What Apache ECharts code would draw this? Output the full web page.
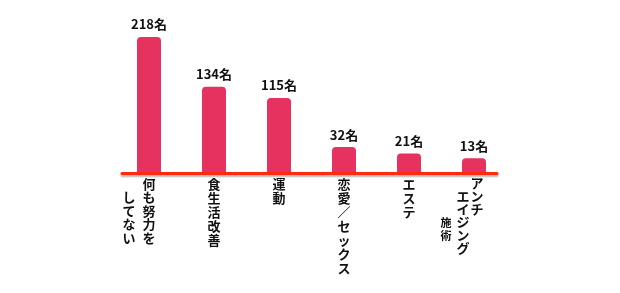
<!DOCTYPE html>
<html>
<head>
<meta charset="utf-8">
<script src="https://cdn.jsdelivr.net/npm/echarts@6/dist/echarts.min.js"></script>
<style>html,body{margin:0;padding:0;background:#fff;}#c{width:620px;height:293px;}</style>
</head>
<body>
<div id="c"></div>
<script>
const categories = ['何も努力をしてない', '食生活改善', '運動', '恋愛／セックス', 'エステ', 'アンチエイジング施術'];
const values = [218, 134, 115, 32, 21, 13];
const valueSuffix = '名';
// vertical label columns (right to left, as in Japanese vertical writing)
const labelColumns = [
  [{ t: '何も努力を', row: 0 }, { t: 'してない', row: 1 }],
  [{ t: '食生活改善', row: 0 }],
  [{ t: '運動', row: 0 }],
  [{ t: '恋愛／セックス', row: 0 }],
  [{ t: 'エステ', row: 0 }],
  [{ t: 'アンチ', row: 0 }, { t: 'エイジング', row: 1 }, { t: '施術', row: 3, small: true }]
];

// label cell layout (styling only)
const labelLayout = [
  { widths: [20, 20], spacer: 20, lh: 13.5 },
  { widths: [20], spacer: 0, lh: 14 },
  { widths: [20], spacer: 0, lh: 14 },
  { widths: [20], spacer: 0, lh: 14 },
  { widths: [20], spacer: 0, lh: 14 },
  { widths: [14, 14, 20], spacer: 28, lh: 13 }
];

const FONT = '"Noto Sans CJK JP", "Noto Sans", sans-serif';
const rich = {};
const labelStrings = [];
labelColumns.forEach((cols, i) => {
  const lay = labelLayout[i];
  let nRows = 0;
  cols.forEach(c => { nRows = Math.max(nRows, c.row + Array.from(c.t).length); });
  cols.forEach((c, j) => {
    rich['c' + i + '_' + j] = {
      width: lay.widths[j], align: 'center',
      fontSize: c.small ? 11 : 13, fontWeight: 'bold', fontFamily: FONT,
      color: '#111', lineHeight: lay.lh
    };
  });
  if (lay.spacer) {
    rich['s' + i] = { width: lay.spacer, fontSize: 13, lineHeight: lay.lh, fontFamily: FONT };
  }
  const lines = [];
  for (let r = 0; r < nRows; r++) {
    let line = '';
    for (let j = cols.length - 1; j >= 0; j--) {
      const chars = Array.from(cols[j].t);
      const k = r - cols[j].row;
      const ch = (k >= 0 && k < chars.length) ? chars[k] : '\u3000';
      line += '{c' + i + '_' + j + '|' + ch + '}';
    }
    if (lay.spacer) line += '{s' + i + '|\u3000}';
    lines.push(line);
  }
  labelStrings.push(lines.join('\n'));
});

const chart = echarts.init(document.getElementById('c'), null, { renderer: 'canvas' });
chart.setOption({
  backgroundColor: '#ffffff',
  animation: false,
  grid: [
    { left: 116.5, right: 113.5, top: 20, bottom: 120 },
    { left: 122, right: 123, top: 20, bottom: 120 }
  ],
  xAxis: [{
    type: 'category',
    gridIndex: 0,
    data: categories,
    axisLine: { show: false },
    axisTick: { show: false },
    axisLabel: {
      interval: 0,
      margin: 4,
      hideOverlap: false,
      verticalAlign: 'top',
      formatter: (v, idx) => labelStrings[idx],
      rich: rich
    }
  }, {
    type: 'category',
    gridIndex: 1,
    data: categories,
    z: 5,
    axisLine: {
      onZero: false,
      lineStyle: { color: '#FF2A12', width: 3, shadowColor: 'rgba(0,0,0,0.3)', shadowBlur: 2, shadowOffsetY: 2 }
    },
    axisTick: { show: false },
    axisLabel: { show: false }
  }],
  yAxis: [{
    type: 'value',
    gridIndex: 0,
    min: -11.8,
    max: 246.8,
    startValue: -11.8,
    show: false,
    splitLine: { show: false }
  }, {
    type: 'value',
    gridIndex: 1,
    min: 0,
    max: 1,
    show: false,
    splitLine: { show: false }
  }],
  series: [{
    type: 'bar',
    xAxisIndex: 0,
    yAxisIndex: 0,
    data: values,
    barWidth: 24,
    itemStyle: { color: '#E5325E', borderRadius: [4, 4, 0, 0] },
    label: {
      show: true,
      position: 'top',
      distance: 6,
      formatter: p => p.value + valueSuffix,
      fontSize: 13,
      fontWeight: 'bold',
      fontFamily: FONT,
      color: '#111'
    },
    z: 1
  }]
});
</script>
</body>
</html>
